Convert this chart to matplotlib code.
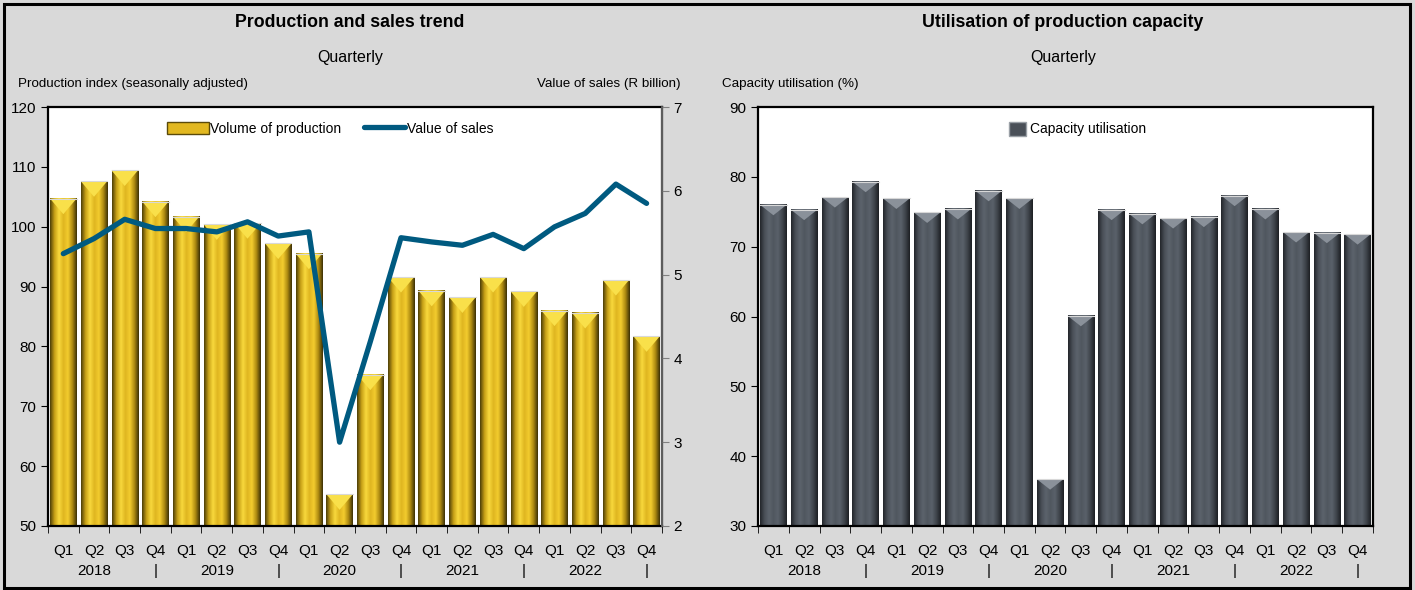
import matplotlib.pyplot as plt
import numpy as np
from matplotlib.colors import LinearSegmentedColormap
from matplotlib.patches import Patch, Rectangle, Polygon
from matplotlib.lines import Line2D

plt.rcParams['font.family'] = ['Liberation Sans Narrow', 'Liberation Sans', 'DejaVu Sans']

# data
years = ['2018', '2019', '2020', '2021', '2022']
quarters = ['Q1', 'Q2', 'Q3', 'Q4']
production = [104.7, 107.6, 109.4, 104.2, 101.7, 100.4, 100.6, 97.2, 95.5, 55.3,
              75.3, 91.6, 89.3, 88.2, 91.6, 89.2, 86.0, 85.6, 91.1, 81.7]
sales = [5.25, 5.43, 5.66, 5.55, 5.55, 5.51, 5.63, 5.46, 5.51, 3.0,
         4.2, 5.44, 5.39, 5.35, 5.48, 5.31, 5.57, 5.73, 6.08, 5.85]
capacity = [76.0, 75.3, 77.1, 79.3, 76.9, 74.9, 75.4, 78.0, 76.9, 36.7,
            60.1, 75.3, 74.7, 74.1, 74.3, 77.3, 75.4, 72.1, 72.0, 71.8]

labels = []
for y in years:
    for q in quarters:
        if q == 'Q2':
            labels.append(q + '\n' + y)
        elif q == 'Q4':
            labels.append(q + '\n|')
        else:
            labels.append(q)

gold = LinearSegmentedColormap.from_list('gold', ['#4f4008', '#c9a218', '#f8d83c', '#dfb520',
                                                  '#f3cc2e', '#b18d12', '#3e3206'])
grey = LinearSegmentedColormap.from_list('grey', ['#24272b', '#4a5058', '#5c636c', '#50575f',
                                                  '#5a616a', '#40454c', '#1d2024'])
line_col = '#005a80'


def shaded_bars(ax, values, cmap, cap_color, cap_depth):
    x = np.arange(len(values))
    bars = ax.bar(x, values, width=0.86, color='none', edgecolor='none', zorder=2)
    grad = np.linspace(0, 1, 64).reshape(1, -1)
    for b in bars:
        x0, w, top = b.get_x(), b.get_width(), b.get_height()
        ax.imshow(grad, extent=[x0, x0 + w, 0, top], cmap=cmap, aspect='auto', zorder=2)
        ax.add_patch(Polygon([[x0, top], [x0 + w, top], [x0 + w / 2, top - cap_depth]],
                             closed=True, facecolor=cap_color, edgecolor='none', zorder=3))
        ax.plot([x0, x0 + w], [top, top], color='#d8d8d8', lw=0.8, zorder=3)


def style_axis(ax):
    n = len(labels)
    ax.set_xlim(-0.5, n - 0.5)
    ax.set_xticks(np.arange(n))
    ax.set_xticklabels(labels, fontsize=11, linespacing=1.55)
    ax.set_xticks(np.arange(n + 1) - 0.5, minor=True)
    ax.tick_params(axis='x', which='major', length=0, pad=13)
    ax.tick_params(axis='x', which='minor', length=5, direction='out')
    ax.tick_params(axis='y', length=5, direction='out', labelsize=11)
    ax.set_facecolor('white')
    for s in ax.spines.values():
        s.set_linewidth(1.6)
        s.set_color('black')


fig = plt.figure(figsize=(14.15, 5.9), dpi=100)
fig.patch.set_facecolor('#d9d9d9')

# left panel
ax = fig.add_axes([0.0339, 0.1085, 0.4339, 0.7101])
shaded_bars(ax, production, gold, '#f9e04a', 2.6)
style_axis(ax)
ax.set_ylim(50, 120)
ax.set_yticks(np.arange(50, 121, 10))

ax2 = ax.twinx()
ax2.plot(np.arange(len(sales)), sales, color=line_col, lw=3.8,
         solid_capstyle='round', solid_joinstyle='round', zorder=5)
ax2.set_ylim(2, 7)
ax2.set_yticks(np.arange(2, 8, 1))
ax2.tick_params(axis='y', length=5, direction='out', labelsize=11, color='#808080')
ax2.spines['right'].set_color('#707070')
ax2.spines['right'].set_linewidth(1.2)
for s in ['left', 'top', 'bottom']:
    ax2.spines[s].set_visible(False)

handles = [Patch(facecolor='#e2b820', edgecolor='#5a4a0a'),
           Line2D([], [], color=line_col, lw=3.8, solid_capstyle='round')]
ax2.legend(handles, ['Volume of production', 'Value of sales'], loc='upper center',
           bbox_to_anchor=(0.46, 0.995), ncol=2, frameon=False, fontsize=10,
           handlelength=3.0, handleheight=0.9, handletextpad=0.1, columnspacing=1.6)

# right panel
bx = fig.add_axes([0.5357, 0.1085, 0.4346, 0.7101])
shaded_bars(bx, capacity, grey, '#8a919a', 1.5)
style_axis(bx)
bx.set_ylim(30, 90)
bx.set_yticks(np.arange(30, 91, 10))
bx.legend([Patch(facecolor='#4a5058', edgecolor='#9aa0a6')], ['Capacity utilisation'],
          loc='upper center', bbox_to_anchor=(0.52, 0.995), frameon=False, fontsize=10,
          handlelength=1.2, handleheight=1.2, handletextpad=0.3)

# texts
fig.text(0.2473, 0.9627, 'Production and sales trend', ha='center', va='center',
         fontsize=12.8, fontweight='bold')
fig.text(0.2473, 0.9017, 'Quarterly', ha='center', va='center', fontsize=11.5)
fig.text(0.0127, 0.8576, 'Production index (seasonally adjusted)', ha='left', va='center', fontsize=9.6)
fig.text(0.4813, 0.8576, 'Value of sales (R billion)', ha='right', va='center', fontsize=9.6)
fig.text(0.7512, 0.9627, 'Utilisation of production capacity', ha='center', va='center',
         fontsize=12.8, fontweight='bold')
fig.text(0.7512, 0.9017, 'Quarterly', ha='center', va='center', fontsize=11.5)
fig.text(0.5102, 0.8576, 'Capacity utilisation (%)', ha='left', va='center', fontsize=9.6)

fig.patches.append(Rectangle((0.003, 0.004), 0.9935, 0.99, transform=fig.transFigure,
                             fill=False, edgecolor='black', lw=2.2))

fig.savefig('out.png', dpi=100, facecolor=fig.get_facecolor())
